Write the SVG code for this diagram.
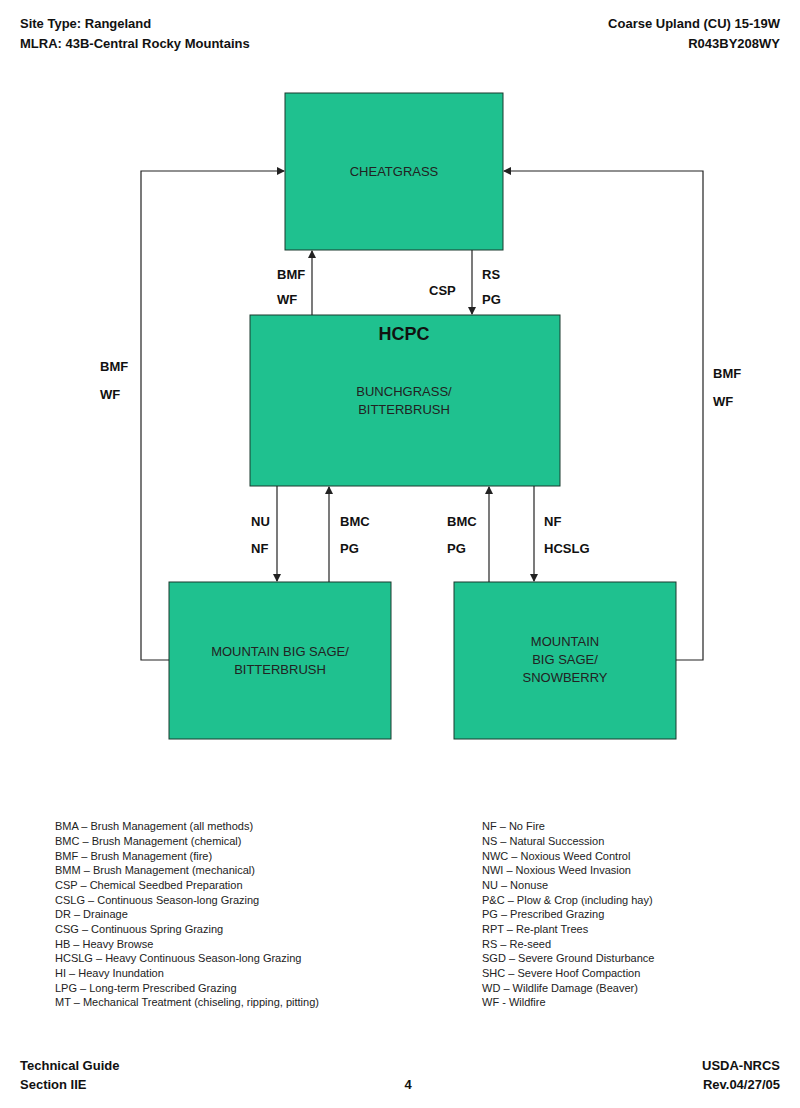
<svg xmlns="http://www.w3.org/2000/svg" width="800" height="1108" viewBox="0 0 800 1108">
<style>
.b{fill:#1fc18f;stroke:#1a3a2e;stroke-width:1}
.t{font-family:"Liberation Sans",Arial,sans-serif;font-size:13px;fill:#222}
.h{font-family:"Liberation Sans",Arial,sans-serif;font-size:13px;font-weight:bold;fill:#111}
.l{font-family:"Liberation Sans",Arial,sans-serif;font-size:11px;fill:#222}
.c{fill:none;stroke:#222;stroke-width:1.2}
</style>
<defs><marker id="a" markerWidth="8" markerHeight="8" refX="7" refY="4" orient="auto" markerUnits="userSpaceOnUse"><path d="M0,0L8,4L0,8z" fill="#222"/></marker></defs>
<rect width="800" height="1108" fill="#fff"/>
<text class="h" x="20" y="28">Site Type:  Rangeland</text>
<text class="h" x="20" y="48">MLRA: 43B-Central Rocky Mountains</text>
<text class="h" x="780" y="28" text-anchor="end">Coarse Upland (CU) 15-19W</text>
<text class="h" x="780" y="48" text-anchor="end">R043BY208WY</text>
<g id="cheatgrass"><rect class="b" x="285" y="93" width="218" height="157"/><text class="t" x="394" y="176" text-anchor="middle">CHEATGRASS</text></g>
<g id="hcpc"><rect class="b" x="250" y="315" width="310" height="171"/><text x="404" y="340" text-anchor="middle" font-family="Liberation Sans,Arial,sans-serif" font-size="18" font-weight="bold" fill="#111">HCPC</text><text class="t" x="404" y="396" text-anchor="middle">BUNCHGRASS/</text><text class="t" x="404" y="414" text-anchor="middle">BITTERBRUSH</text></g>
<g id="mbs-bitterbrush"><rect class="b" x="169" y="582" width="222" height="157"/><text class="t" x="280" y="656" text-anchor="middle">MOUNTAIN BIG SAGE/</text><text class="t" x="280" y="674" text-anchor="middle">BITTERBRUSH</text></g>
<g id="mbs-snowberry"><rect class="b" x="454" y="582" width="222" height="157"/><text class="t" x="565" y="646" text-anchor="middle">MOUNTAIN</text><text class="t" x="565" y="664" text-anchor="middle">BIG SAGE/</text><text class="t" x="565" y="682" text-anchor="middle">SNOWBERRY</text></g>
<g id="connectors">
<path class="c" d="M169,660H141V171H284" marker-end="url(#a)"/>
<path class="c" d="M676,660H703V171H504" marker-end="url(#a)"/>
<path class="c" d="M312,315V251" marker-end="url(#a)"/>
<path class="c" d="M472,250V314" marker-end="url(#a)"/>
<path class="c" d="M277,486V581" marker-end="url(#a)"/>
<path class="c" d="M329,582V487" marker-end="url(#a)"/>
<path class="c" d="M489,582V487" marker-end="url(#a)"/>
<path class="c" d="M534,486V581" marker-end="url(#a)"/>
<text class="h" x="277" y="279">BMF</text><text class="h" x="277" y="304">WF</text>
<text class="h" x="429" y="295">CSP</text>
<text class="h" x="482" y="279">RS</text><text class="h" x="482" y="304">PG</text>
<text class="h" x="100" y="371">BMF</text><text class="h" x="100" y="399">WF</text>
<text class="h" x="713" y="378">BMF</text><text class="h" x="713" y="406">WF</text>
<text class="h" x="251" y="526">NU</text><text class="h" x="251" y="553">NF</text>
<text class="h" x="340" y="526">BMC</text><text class="h" x="340" y="553">PG</text>
<text class="h" x="447" y="526">BMC</text><text class="h" x="447" y="553">PG</text>
<text class="h" x="544" y="526">NF</text><text class="h" x="544" y="553">HCSLG</text>
</g>
<g class="l">
<text class="l" x="55" y="830">BMA – Brush Management (all methods)</text>
<text class="l" x="55" y="845">BMC – Brush Management (chemical)</text>
<text class="l" x="55" y="860">BMF – Brush Management (fire)</text>
<text class="l" x="55" y="874">BMM – Brush Management (mechanical)</text>
<text class="l" x="55" y="889">CSP – Chemical Seedbed Preparation</text>
<text class="l" x="55" y="904">CSLG – Continuous Season-long Grazing</text>
<text class="l" x="55" y="918">DR – Drainage</text>
<text class="l" x="55" y="933">CSG – Continuous Spring Grazing</text>
<text class="l" x="55" y="948">HB – Heavy Browse</text>
<text class="l" x="55" y="962">HCSLG – Heavy Continuous Season-long Grazing</text>
<text class="l" x="55" y="977">HI – Heavy Inundation</text>
<text class="l" x="55" y="992">LPG – Long-term Prescribed Grazing</text>
<text class="l" x="55" y="1006">MT – Mechanical Treatment (chiseling, ripping, pitting)</text>
<text class="l" x="482" y="830">NF – No Fire</text>
<text class="l" x="482" y="845">NS – Natural Succession</text>
<text class="l" x="482" y="860">NWC – Noxious Weed Control</text>
<text class="l" x="482" y="874">NWI – Noxious Weed Invasion</text>
<text class="l" x="482" y="889">NU – Nonuse</text>
<text class="l" x="482" y="904">P&amp;C – Plow &amp; Crop (including hay)</text>
<text class="l" x="482" y="918">PG – Prescribed Grazing</text>
<text class="l" x="482" y="933">RPT – Re-plant Trees</text>
<text class="l" x="482" y="948">RS – Re-seed</text>
<text class="l" x="482" y="962">SGD – Severe Ground Disturbance</text>
<text class="l" x="482" y="977">SHC – Severe Hoof Compaction</text>
<text class="l" x="482" y="992">WD – Wildlife Damage (Beaver)</text>
<text class="l" x="482" y="1006">WF - Wildfire</text>
</g>
<text class="h" x="20" y="1070">Technical Guide</text>
<text class="h" x="20" y="1089">Section IIE</text>
<text class="h" x="408" y="1089" text-anchor="middle">4</text>
<text class="h" x="780" y="1070" text-anchor="end">USDA-NRCS</text>
<text class="h" x="780" y="1089" text-anchor="end">Rev.04/27/05</text>
</svg>
